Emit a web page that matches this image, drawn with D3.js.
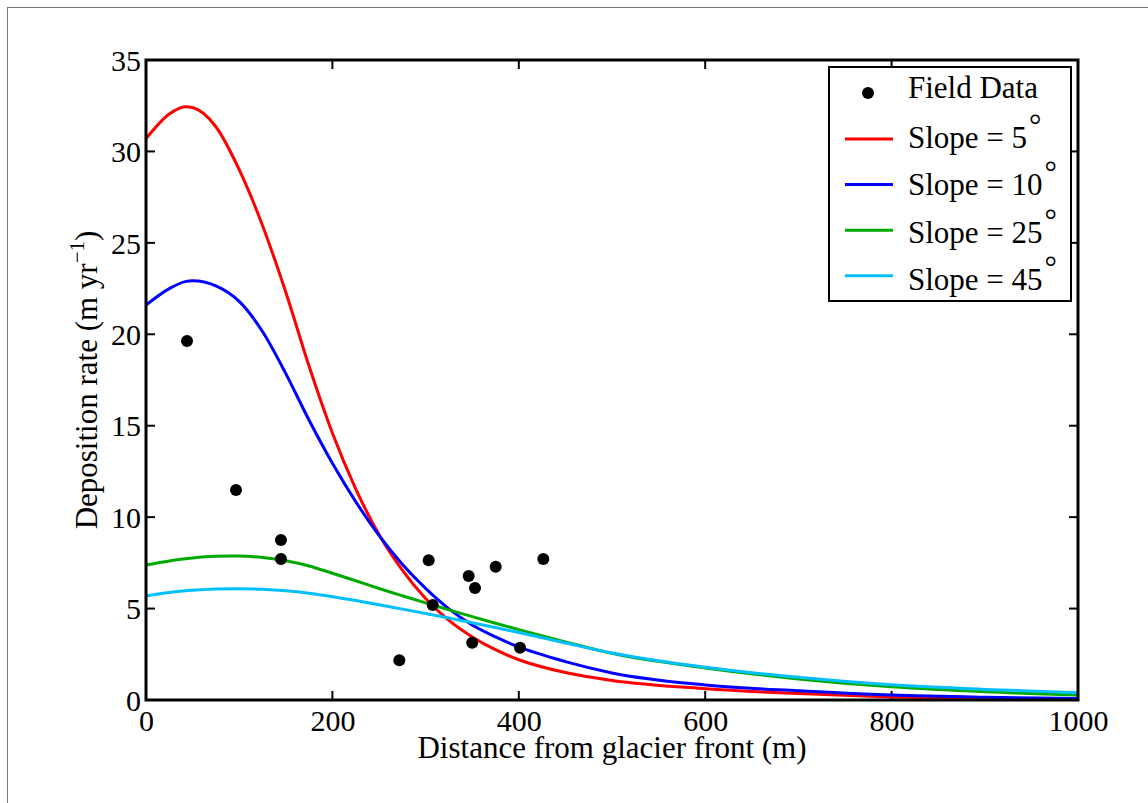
<!DOCTYPE html>
<html>
<head>
<meta charset="utf-8">
<script src="https://cdn.jsdelivr.net/npm/d3@7"></script>
<style>
  body { margin: 0; background: #fff; }
  svg { display: block; }
  text { font-family: "Liberation Serif", "Times New Roman", serif; fill: #000; }
</style>
</head>
<body>
<svg id="chart" width="1148" height="803"></svg>
<script>
// Modelled deposition rate (m/yr) against distance from the glacier front (m)
const distance = [0, 25, 42, 50, 75, 100, 125, 150, 175, 200, 225, 250, 275, 300, 325, 350, 375, 400, 450, 500, 600, 700, 800, 900, 1000];
const slope5  = [30.7, 32.05, 32.45, 32.4, 31.35, 29.0, 25.95, 22.3, 18.25, 14.6, 11.55, 9.05, 7.1, 5.55, 4.35, 3.45, 2.75, 2.2, 1.5, 1.07, 0.62, 0.35, 0.17, 0.08, 0.04];
const slope10 = [21.6, 22.5, 22.88, 22.93, 22.65, 21.8, 20.15, 17.85, 15.3, 12.95, 10.85, 9.0, 7.42, 6.1, 4.98, 4.1, 3.45, 2.9, 2.1, 1.48, 0.82, 0.5, 0.27, 0.15, 0.08];
const slope25 = [7.38, 7.6, 7.72, 7.77, 7.86, 7.87, 7.79, 7.62, 7.33, 6.93, 6.52, 6.1, 5.7, 5.31, 4.93, 4.56, 4.2, 3.85, 3.18, 2.55, 1.75, 1.15, 0.72, 0.45, 0.28];
const slope45 = [5.69, 5.88, 5.97, 6.0, 6.07, 6.09, 6.06, 5.98, 5.84, 5.65, 5.44, 5.21, 4.97, 4.73, 4.48, 4.22, 3.96, 3.69, 3.12, 2.57, 1.79, 1.24, 0.83, 0.58, 0.40];

// Field measurements
const fieldDistance = [44, 96.6, 144.8, 144.8, 271.8, 303.3, 307.6, 346.2, 353, 350, 375.2, 401.3, 426.3];
const fieldRate     = [19.63, 11.48, 8.75, 7.71, 2.17, 7.64, 5.19, 6.78, 6.12, 3.13, 7.29, 2.86, 7.71];

// Axis ticks
const xTicks = [0, 200, 400, 600, 800, 1000];
const yTicks = [0, 5, 10, 15, 20, 25, 30, 35];

// Legend entries
const seriesNames = ["Slope = 5", "Slope = 10", "Slope = 25", "Slope = 45"];
const seriesColors = ["#ff0000", "#0000ff", "#00aa00", "#00bfff"];
const seriesValues = [slope5, slope10, slope25, slope45];

const svg = d3.select("#chart");
const margin = { left: 146, top: 60, right: 1078, bottom: 700 };

// Figure frame
svg.append("rect")
  .attr("x", 7.5).attr("y", 7.5)
  .attr("width", 1300).attr("height", 1000)
  .attr("fill", "none").attr("stroke", "#777").attr("stroke-width", 1);

const x = d3.scaleLinear().domain([0, 1000]).range([margin.left, margin.right]);
const y = d3.scaleLinear().domain([0, 35]).range([margin.bottom, margin.top]);

const fontSize = 30;
const tickLen = 9;

// Axes with inward ticks on all four sides
const axisBottom = d3.axisBottom(x).tickValues(xTicks).tickSize(0).tickPadding(14).tickFormat(d3.format("d"));
const axisLeft = d3.axisLeft(y).tickValues(yTicks).tickSize(0).tickPadding(6).tickFormat(d3.format("d"));

const gx = svg.append("g").attr("transform", `translate(0,${margin.bottom})`).call(axisBottom);
gx.select(".domain").remove();
gx.selectAll("text").attr("font-size", fontSize).attr("font-family", "Liberation Serif").attr("dy", "0.71em").attr("y", 10);

const gy = svg.append("g").attr("transform", `translate(${margin.left},0)`).call(axisLeft);
gy.select(".domain").remove();
gy.selectAll("text").attr("font-size", fontSize).attr("font-family", "Liberation Serif").attr("x", -5).attr("dy", "0.34em");

const ticks = svg.append("g").attr("stroke", "#000").attr("stroke-width", 2);
xTicks.forEach(t => {
  ticks.append("line").attr("x1", x(t)).attr("x2", x(t)).attr("y1", margin.bottom).attr("y2", margin.bottom - tickLen);
  ticks.append("line").attr("x1", x(t)).attr("x2", x(t)).attr("y1", margin.top).attr("y2", margin.top + tickLen);
});
yTicks.forEach(t => {
  ticks.append("line").attr("x1", margin.left).attr("x2", margin.left + tickLen).attr("y1", y(t)).attr("y2", y(t));
  ticks.append("line").attr("x1", margin.right).attr("x2", margin.right - tickLen).attr("y1", y(t)).attr("y2", y(t));
});

// Model curves
const line = d3.line()
  .x((d, i) => x(distance[i]))
  .y(d => y(d))
  .curve(d3.curveMonotoneX);

seriesValues.forEach((vals, k) => {
  svg.append("path")
    .datum(vals)
    .attr("d", line)
    .attr("fill", "none")
    .attr("stroke", seriesColors[k])
    .attr("stroke-width", 3);
});

// Field data
svg.append("g").selectAll("circle")
  .data(fieldDistance)
  .join("circle")
  .attr("cx", d => x(d))
  .attr("cy", (d, i) => y(fieldRate[i]))
  .attr("r", 6)
  .attr("fill", "#000");

// Plot box
svg.append("rect")
  .attr("x", margin.left).attr("y", margin.top)
  .attr("width", margin.right - margin.left).attr("height", margin.bottom - margin.top)
  .attr("fill", "none").attr("stroke", "#000").attr("stroke-width", 3);

// Axis labels
svg.append("text")
  .attr("x", (margin.left + margin.right) / 2)
  .attr("y", 758)
  .attr("text-anchor", "middle")
  .attr("font-size", 31)
  .text("Distance from glacier front (m)");

const yl = svg.append("text")
  .attr("transform", `translate(97,${(margin.top + margin.bottom) / 2}) rotate(-90)`)
  .attr("text-anchor", "middle")
  .attr("font-size", 31);
yl.append("tspan").text("Deposition rate (m yr");
yl.append("tspan").attr("font-size", 21).attr("dy", -13).text("\u22121");
yl.append("tspan").attr("dy", 13).text(")");

// Legend
const legend = svg.append("g");
legend.append("rect")
  .attr("x", 829).attr("y", 67)
  .attr("width", 242).attr("height", 234)
  .attr("fill", "#fff").attr("stroke", "#000").attr("stroke-width", 2);

legend.append("circle").attr("cx", 868).attr("cy", 93).attr("r", 6).attr("fill", "#000");
legend.append("text").attr("x", 908).attr("y", 98).attr("font-size", 31).text("Field Data");

seriesNames.forEach((name, k) => {
  const ly = 139 + k * 45.6;
  const ty = 147.5 + k * 47.5;
  legend.append("line")
    .attr("x1", 845).attr("x2", 893)
    .attr("y1", ly).attr("y2", ly)
    .attr("stroke", seriesColors[k]).attr("stroke-width", 3);
  const t = legend.append("text").attr("x", 908).attr("y", ty).attr("font-size", 31);
  t.append("tspan").text(name);
  t.append("tspan").attr("dy", -12).attr("dx", 2).text("\u00b0");
});
</script>
</body>
</html>
